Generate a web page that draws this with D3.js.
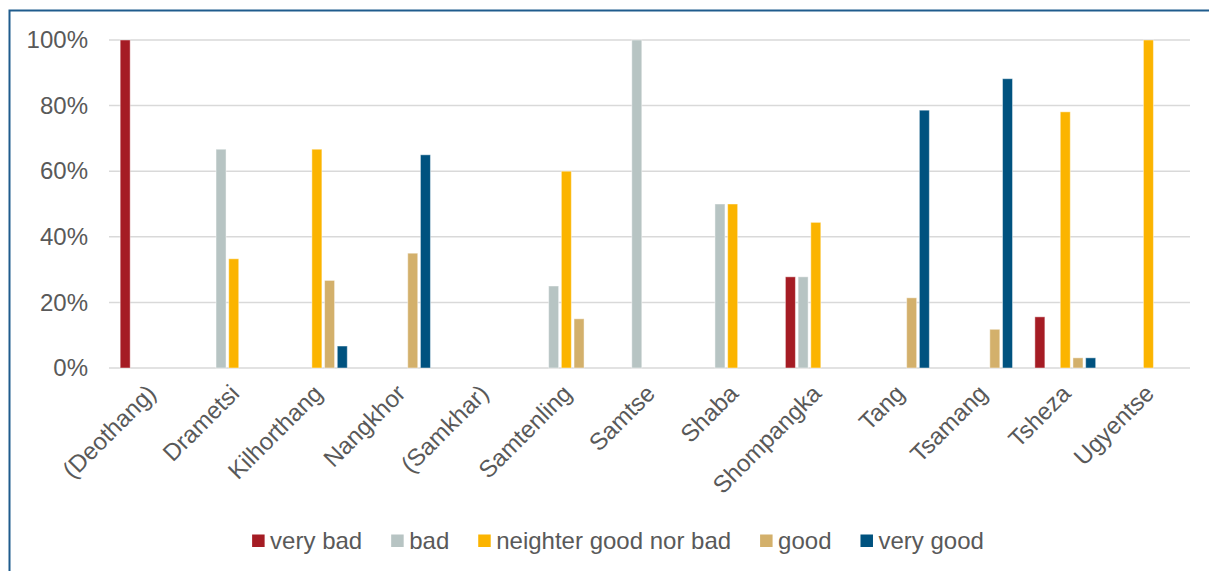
<!DOCTYPE html>
<html>
<head>
<meta charset="utf-8">
<script src="https://cdn.jsdelivr.net/npm/d3@7"></script>
<style>
  html, body { margin: 0; padding: 0; background: #fff; }
  svg { display: block; }
  text { font-family: "Liberation Sans", Arial, sans-serif; fill: #595959; }
</style>
</head>
<body>
<svg id="chart" width="1209" height="571"></svg>
<script>
// Survey ratings by gewog (share of respondents per answer)
const categories = ["(Deothang)", "Drametsi", "Kilhorthang", "Nangkhor", "(Samkhar)", "Samtenling",
                    "Samtse", "Shaba", "Shompangka", "Tang", "Tsamang", "Tsheza", "Ugyentse"];
const seriesNames = ["very bad", "bad", "neighter good nor bad", "good", "very good"];
const seriesColors = ["#A51C24", "#B7C4C3", "#FBB400", "#D3B06B", "#00527F"];

const veryBad  = [1.000, 0,     0,     0,     0, 0,    0,     0,   0.278, 0,     0,     0.156, 0];
const bad      = [0,     0.667, 0,     0,     0, 0.25, 1.000, 0.5, 0.278, 0,     0,     0,     0];
const neither  = [0,     0.333, 0.667, 0,     0, 0.60, 0,     0.5, 0.444, 0,     0,     0.781, 1.000];
const good     = [0,     0,     0.267, 0.35,  0, 0.15, 0,     0,   0,     0.214, 0.118, 0.031, 0];
const veryGood = [0,     0,     0.067, 0.65,  0, 0,    0,     0,   0,     0.786, 0.882, 0.031, 0];
const seriesValues = [veryBad, bad, neither, good, veryGood];

const yTicks = [0, 0.2, 0.4, 0.6, 0.8, 1.0];

const svg = d3.select("#chart");
const fontSize = 24;

// outer chart frame
svg.append("rect")
  .attr("x", 9.5).attr("y", 10.5)
  .attr("width", 1400).attr("height", 800)
  .attr("fill", "none")
  .attr("stroke", "#1F5C8D")
  .attr("stroke-width", 2);

const plot = { left: 109, right: 1190, top: 40, bottom: 368 };

const x0 = d3.scaleBand().domain(categories).range([plot.left, plot.right]).padding(0);
const x1 = d3.scaleBand().domain(seriesNames).range([0, x0.bandwidth()])
  .paddingInner(0.2126).paddingOuter(0.88);
const y = d3.scaleLinear().domain([0, 1]).range([plot.bottom, plot.top]);

// horizontal gridlines
svg.append("g")
  .selectAll("line")
  .data(yTicks)
  .join("line")
  .attr("x1", plot.left).attr("x2", plot.right)
  .attr("y1", d => y(d)).attr("y2", d => y(d))
  .attr("stroke", "#D9D9D9")
  .attr("stroke-width", 1.5);

// y axis labels
const yAxis = d3.axisLeft(y).tickValues(yTicks).tickFormat(d3.format(".0%")).tickSize(0).tickPadding(0);
const yg = svg.append("g").attr("transform", `translate(88,0)`).call(yAxis);
yg.select(".domain").remove();
yg.selectAll("text")
  .style("font-size", fontSize + "px")
  .attr("fill", "#595959")
  .attr("font-family", "Liberation Sans, Arial, sans-serif");

// bars
const rows = categories.map((c, i) => ({ cat: c, vals: seriesNames.map((s, j) => ({ s, j, v: seriesValues[j][i] })) }));
const groups = svg.append("g")
  .selectAll("g")
  .data(rows)
  .join("g")
  .attr("transform", d => `translate(${x0(d.cat)},0)`);
groups.selectAll("rect")
  .data(d => d.vals.filter(v => v.v > 0))
  .join("rect")
  .attr("x", d => x1(d.s))
  .attr("width", x1.bandwidth())
  .attr("y", d => y(d.v))
  .attr("height", d => y(0) - y(d.v))
  .attr("fill", d => seriesColors[d.j])
  .attr("stroke", "#fff")
  .attr("stroke-opacity", 0.45)
  .attr("stroke-width", 1);

// category labels, rotated
svg.append("g")
  .selectAll("text")
  .data(categories)
  .join("text")
  .attr("transform", d => `translate(${x0(d) + x0.bandwidth() / 2 + 1},389) rotate(-45)`)
  .attr("text-anchor", "end")
  .attr("dy", "0.35em")
  .style("font-size", fontSize + "px")
  .text(d => d);

// legend
const legend = svg.append("g");
const items = legend.selectAll("g")
  .data(seriesNames)
  .join("g");
items.append("rect")
  .attr("width", 12.5).attr("height", 12.5)
  .attr("y", 534.5)
  .attr("fill", (d, i) => seriesColors[i]);
items.append("text")
  .attr("x", 18)
  .attr("y", 541)
  .attr("dy", "0.35em")
  .style("font-size", fontSize + "px")
  .text(d => d);
let xpos = 0;
const offsets = [];
items.each(function () {
  const w = d3.select(this).select("text").node().getComputedTextLength();
  offsets.push(xpos);
  xpos += 18 + w + 29;
});
const total = xpos - 29;
const startX = 618 - total / 2;
items.attr("transform", (d, i) => `translate(${startX + offsets[i]},0)`);
</script>
</body>
</html>
